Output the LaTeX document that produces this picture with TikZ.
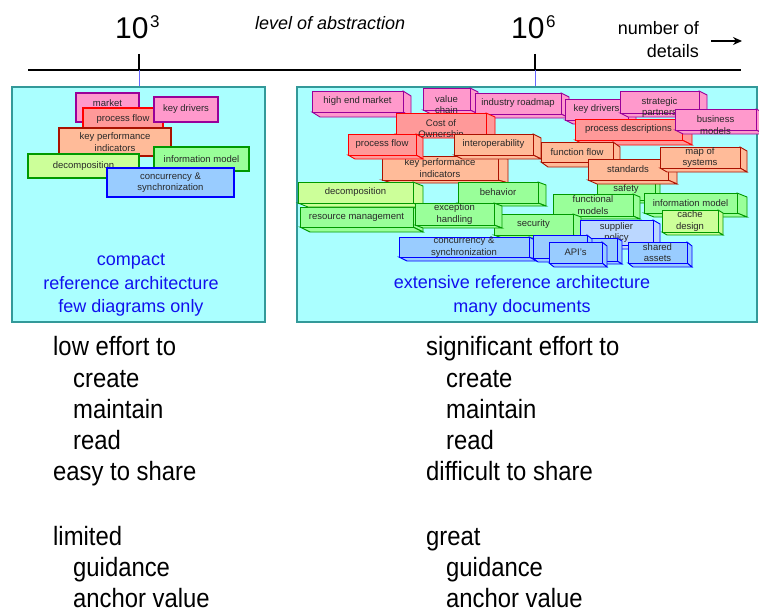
\documentclass[tikz,border=0pt]{standalone}
\usepackage{fontspec}
\setmainfont{Liberation Sans}
\newfontfamily\narrowfont[FakeStretch=0.9]{Liberation Sans}
\usetikzlibrary{arrows.meta}
\definecolor{panelfill}{RGB}{170,255,255}
\definecolor{panelline}{RGB}{51,153,153}
\definecolor{pinkF}{RGB}{255,153,204}
\definecolor{pinkD}{RGB}{153,0,153}
\definecolor{redF}{RGB}{255,153,153}
\definecolor{redD}{RGB}{255,0,0}
\definecolor{salF}{RGB}{255,187,153}
\definecolor{salD}{RGB}{170,17,0}
\definecolor{grnF}{RGB}{153,255,153}
\definecolor{grnD}{RGB}{0,153,0}
\definecolor{ygF}{RGB}{204,255,153}
\definecolor{bluF}{RGB}{153,204,255}
\definecolor{bluD}{RGB}{0,0,255}
\definecolor{lbluF}{RGB}{187,215,255}
\definecolor{txtblue}{RGB}{17,17,238}
\definecolor{boxtext}{RGB}{40,40,40}
\definecolor{tickblue}{RGB}{102,102,255}
\tikzset{
  bx/.style={inner sep=0pt, align=center, text=boxtext, font=\fontsize{9.5}{11.5}\selectfont},
  pinkbox/.style={bx, fill=pinkF, draw=pinkD},
  redbox/.style={bx, fill=redF, draw=redD},
  salbox/.style={bx, fill=salF, draw=salD},
  grnbox/.style={bx, fill=grnF, draw=grnD},
  ygbox/.style={bx, fill=ygF, draw=grnD},
  blubox/.style={bx, fill=bluF, draw=bluD},
  lblubox/.style={bx, fill=lbluF, draw=bluD},
  thinb/.style={line width=0.9pt},
  thickb/.style={line width=1.2pt},
  panel/.style={fill=panelfill, draw=panelline, line width=1.5pt},
  bigtext/.style={font=\narrowfont\fontsize{26.5}{30}\selectfont, anchor=base west, inner sep=0pt},
  bluetext/.style={font=\fontsize{18}{22}\selectfont, text=txtblue, anchor=base, inner sep=0pt},
  axistick/.style={line width=2pt, black},
  paneltick/.style={line width=0.8pt, tickblue},
}
% 3D box: name, style, x1, y1, x2, y2, dx, dy, text
\newcommand{\cb}[9]{%
  \filldraw[#2] (#5,#4) -- ({#5+#7},{#4+#8}) -- ({#5+#7},{#6+#8}) -- (#5,#6) -- cycle;
  \filldraw[#2] (#3,#6) -- (#5,#6) -- ({#5+#7},{#6+#8}) -- ({#3+#7},{#6+#8}) -- cycle;
  \node[#2, minimum width={(#5-#3)*1pt}, minimum height={(#6-#4)*1pt}] (#1) at ({(#3+#5)/2},{(#4+#6)/2}) {#9};%
}
% flat box: name, style, x1, y1, x2, y2, text
\newcommand{\fb}[7]{%
  \node[#2, minimum width={(#5-#3)*1pt}, minimum height={(#6-#4)*1pt}] (#1) at ({(#3+#5)/2},{(#4+#6)/2}) {#7};%
}
\begin{document}
\begin{tikzpicture}[x=1pt,y=-1pt]
\useasboundingbox (0,0) rectangle (759,615);

% axis
\coordinate (axL) at (28,70);
\coordinate (axR) at (741,70);
\draw[line width=2.5pt] (axL) -- (axR);
\coordinate (t3top) at (139,54);
\coordinate (t3bot) at (139,70);
\coordinate (t3pan) at (139,87);
\coordinate (t6top) at (535,54);
\coordinate (t6bot) at (535,70);
\coordinate (t6pan) at (535,87);
\draw[axistick] (t3top) -- (t3bot);
\draw[axistick] (t6top) -- (t6bot);
\draw[paneltick] (t3bot) -- (t3pan);
\draw[paneltick] (t6bot) -- (t6pan);

\node[anchor=base west, inner sep=0pt, font=\fontsize{30}{34}\selectfont] (p3) at (115,39) {10\kern1.5pt\raisebox{11pt}{\fontsize{17}{20}\selectfont 3}};
\node[anchor=base west, inner sep=0pt, font=\fontsize{30}{34}\selectfont] (p6) at (511,39) {10\kern1.5pt\raisebox{11pt}{\fontsize{17}{20}\selectfont 6}};
\node[anchor=base west, inner sep=0pt, font=\fontsize{18}{22}\selectfont\itshape] (loa) at (255,30) {level of abstraction};
\node[anchor=base east, inner sep=0pt, font=\fontsize{18}{22}\selectfont] (nod1) at (699,35) {number of};
\node[anchor=base east, inner sep=0pt, font=\fontsize{18}{22}\selectfont] (nod2) at (699,58) {details};
\coordinate (arL) at (711,41);
\coordinate (arR) at (742,41);
\draw[line width=1.8pt, -{Stealth[length=9pt,width=8pt]}] (arL) -- (arR);

% panels
\draw[panel] (12,87) rectangle (265,322);
\draw[panel] (297,87) rectangle (757,322);

% left panel boxes
\fb{Lmarket}{pinkbox,thickb}{76}{93}{139}{122}{}
\node[bx] (LmarketT) at (107.5,103) {market};
\fb{Lpf}{redbox,thickb}{83}{108}{163}{130}{process flow}
\fb{Lkd}{pinkbox,thickb}{154}{97}{218}{122}{key drivers}
\fb{Lkpi}{salbox,thickb}{59}{128}{171}{156}{key performance\\indicators}
\fb{Ldec}{ygbox,thickb}{28}{154}{139}{178}{decomposition}
\fb{Lim}{grnbox,thickb}{154}{147}{249}{171}{information model}
\fb{Lconc}{blubox,thickb}{107}{168}{234}{197}{concurrency \&\\synchronization}

\node[bluetext] (lb1) at (131,265) {compact};
\node[bluetext] (lb2) at (131,289) {reference architecture};
\node[bluetext] (lb3) at (131,312) {few diagrams only};

% right panel boxes
\cb{hem}{pinkbox,thinb}{312}{91}{403}{112}{8}{5}{high end market}
\cb{vc}{pinkbox,thinb}{423}{88}{470}{110}{8}{4}{value}
\begin{scope}\clip (423,88) rectangle (478,114); \node[bx] (vc2) at (446.5,110.5) {chain}; \end{scope}
\cb{ir}{pinkbox,thinb}{475}{93}{561}{114}{8}{4}{industry roadmap}
\cb{kdR}{pinkbox,thinb}{565}{99}{628}{120}{8}{4}{key drivers}
\cb{sp}{pinkbox,thinb}{620}{91}{699}{113}{8}{4}{strategic}
\begin{scope}\clip (620,91) rectangle (707,118); \node[bx] (sp2) at (659.5,113.5) {partners}; \end{scope}
\cb{kpiR}{salbox,thinb}{382}{156}{498}{180}{10}{3}{key performance\\indicators}
\cb{cost}{redbox,thinb}{396}{113}{486}{134}{9}{4}{Cost of}
\begin{scope}\clip (396,113) rectangle (495,138); \node[bx] (cost2) at (441,135) {Ownership}; \end{scope}
\cb{pfR}{redbox,thinb}{348}{134}{416}{155}{7}{4}{process flow}
\cb{interop}{salbox,thinb}{454}{134}{533}{155}{8}{4}{interoperability}
\cb{pd}{redbox,thinb}{575}{119}{682}{140}{10}{5}{process descriptions}
\cb{bm}{pinkbox,thinb}{675}{109}{756}{130}{8}{4}{business}
\begin{scope}\clip (675,109) rectangle (764,134); \node[bx] (bm2) at (715.5,131) {models}; \end{scope}
\cb{ff}{salbox,thinb}{541}{142}{613}{162}{7}{5}{function flow}
\cb{safety}{grnbox,thinb}{597}{178}{655}{200}{5}{3}{safety}
\cb{std}{salbox,thinb}{588}{159}{668}{180}{9}{4}{standards}
\cb{mos}{salbox,thinb}{660}{147}{740}{168}{7}{4}{map of\\systems}
\cb{rm}{grnbox,thinb}{300}{207}{413}{227}{10}{5}{resource management}
\cb{dec}{ygbox,thinb}{298}{182}{413}{203}{10}{4}{decomposition}
\cb{beh}{grnbox,thinb}{458}{182}{538}{203}{8}{3}{behavior}
\cb{fm}{grnbox,thinb}{553}{194}{633}{216}{7}{3}{functional\\models}
\cb{im}{grnbox,thinb}{644}{193}{737}{213}{10}{4}{information model}
\cb{cache}{ygbox,thinb}{662}{210}{718}{232}{5}{3}{cache\\design}
\cb{sec}{grnbox,thinb}{494}{214}{573}{235}{8}{3}{security}
\cb{exc}{grnbox,thinb}{415}{203}{494}{225}{8}{3}{exception\\handling}
\cb{conc}{blubox,thinb}{399}{237}{529}{257}{8}{4}{concurrency \&\\synchronization}
\cb{supp}{lblubox,thinb}{580}{220}{653}{245}{7}{4}{supplier\\policy}
\cb{boxB}{blubox,thinb}{570}{238}{617}{261}{5}{3}{}
\cb{boxA}{blubox,thinb}{533}{235}{587}{258}{5}{4}{}
\cb{api}{blubox,thinb}{549}{242}{602}{263}{5}{4}{API's}
\cb{sa}{blubox,thinb}{628}{242}{687}{263}{5}{4}{shared\\assets}

\node[bluetext] (rb1) at (522,288) {extensive reference architecture};
\node[bluetext] (rb2) at (522,312) {many documents};

% lower text
\node[bigtext] (l1) at (53,355) {low effort to};
\node[bigtext] (l2) at (73,387) {create};
\node[bigtext] (l3) at (73,418) {maintain};
\node[bigtext] (l4) at (73,449) {read};
\node[bigtext] (l5) at (53,480) {easy to share};
\node[bigtext] (l6) at (53,545) {limited};
\node[bigtext] (l7) at (73,576) {guidance};
\node[bigtext] (l8) at (73,607) {anchor value};

\node[bigtext] (r1) at (426,355) {significant effort to};
\node[bigtext] (r2) at (446,387) {create};
\node[bigtext] (r3) at (446,418) {maintain};
\node[bigtext] (r4) at (446,449) {read};
\node[bigtext] (r5) at (426,480) {difficult to share};
\node[bigtext] (r6) at (426,545) {great};
\node[bigtext] (r7) at (446,576) {guidance};
\node[bigtext] (r8) at (446,607) {anchor value};
\end{tikzpicture}
\end{document}
